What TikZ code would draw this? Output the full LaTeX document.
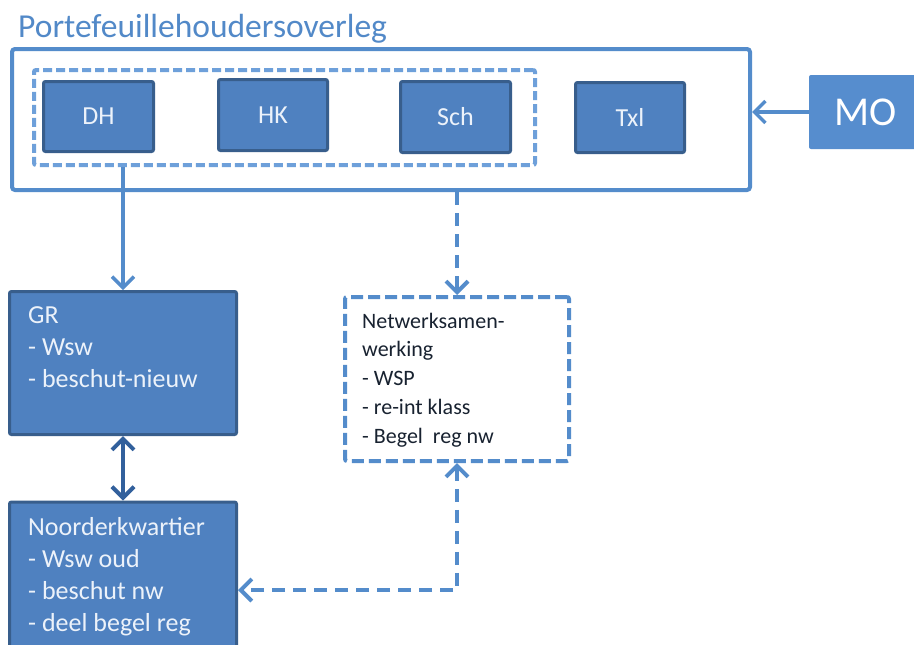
\documentclass[tikz,border=0pt]{standalone}
\usepackage{fontspec}
\setmainfont{Carlito}
\usetikzlibrary{arrows.meta}
\definecolor{boxfill}{RGB}{79,129,192}
\definecolor{boxborder}{RGB}{56,94,140}
\definecolor{lineblue}{RGB}{84,140,203}
\definecolor{dashlight}{RGB}{110,160,218}
\definecolor{darkarrow}{RGB}{50,96,156}
\definecolor{mofill}{RGB}{86,141,206}
\definecolor{titleblue}{RGB}{82,137,200}
\definecolor{boxtext}{RGB}{236,242,250}
\definecolor{darktext}{RGB}{24,34,48}
\tikzset{
  smallbox/.style={draw=boxborder, fill=boxfill, line width=3pt, rounded corners=2pt,
    text=boxtext, font=\fontsize{26}{30}\selectfont, inner sep=0pt},
  bigbox/.style={draw=boxborder, fill=boxfill, line width=3pt, rounded corners=2pt, inner sep=0pt},
  frameline/.style={draw=lineblue, line width=4pt, rounded corners=3pt, inner sep=0pt},
  innerdash/.style={draw=dashlight, line width=4pt, dash pattern=on 9pt off 4pt, rounded corners=2pt, inner sep=0pt},
  nwbox/.style={draw=lineblue, line width=4pt, dash pattern=on 12pt off 5pt, rounded corners=2pt, inner sep=0pt},
  bluetext/.style={anchor=north west, inner sep=0pt, align=left, text=boxtext,
    font=\fontsize{26}{32}\selectfont},
  darkblock/.style={anchor=north west, inner sep=0pt, align=left, text=darktext,
    font=\fontsize{22}{28.7}\selectfont},
  solidconn/.style={draw=lineblue, line width=3.5pt, -{Straight Barb[length=11pt,width=22pt]}},
  dashconn/.style={draw=lineblue, line width=4pt, dash pattern=on 13pt off 8pt, -{Straight Barb[length=11pt,width=22pt]}},
  dashboth/.style={draw=lineblue, line width=4pt, dash pattern=on 13pt off 8pt,
    {Straight Barb[length=11pt,width=22pt]}-{Straight Barb[length=11pt,width=22pt]}},
  dblconn/.style={draw=darkarrow, line width=4pt,
    {Straight Barb[length=11pt,width=22pt]}-{Straight Barb[length=11pt,width=22pt]}}
}
\begin{document}
\begin{tikzpicture}[x=1pt,y=-1pt]
\useasboundingbox (0,0) rectangle (914,645);
\clip (0,0) rectangle (914,645);
\fill[white] (0,0) rectangle (914,645);

% title
\node[anchor=base west, inner sep=0pt, text=titleblue, font=\fontsize{33.5}{38}\selectfont]
  (title) at (18,37) {Portefeuillehoudersoverleg};

% outer frame and inner dashed frame
\node[frameline, minimum width=738pt, minimum height=141pt] (frame) at (381,119.5) {};
\node[innerdash, minimum width=501pt, minimum height=95pt] (inner) at (284.5,117.5) {};

% small boxes
\node[smallbox, minimum width=110pt, minimum height=70pt] (DH) at (98.5,116.5) {DH};
\node[smallbox, minimum width=109pt, minimum height=71pt] (HK) at (273,115) {HK};
\node[smallbox, minimum width=110pt, minimum height=71pt] (Sch) at (455.5,117) {Sch};
\node[smallbox, minimum width=109pt, minimum height=70pt] (Txl) at (630,117.5) {Txl};

% MO
\node[fill=mofill, inner sep=0pt, minimum width=114pt, minimum height=74pt, rounded corners=2pt,
  text=white, font=\fontsize{41}{46}\selectfont] (MO) at (866,112) {MO};

% GR
\node[bigbox, minimum width=227pt, minimum height=143pt] (GR) at (123,363) {};
\node[bluetext] (GRtext) at (28,304) {\rule{0pt}{19pt}GR\\- Wsw\\- beschut-nieuw};

% Noorderkwartier
\node[bigbox, minimum width=227pt, minimum height=156pt] (NK) at (123,580) {};
\node[bluetext] (NKtext) at (28,516) {\rule{0pt}{19pt}Noorderkwartier\\- Wsw oud\\- beschut nw\\- deel begel reg};

% Netwerksamenwerking
\node[nwbox, minimum width=224pt, minimum height=164pt] (NW) at (457,379) {};
\node[darkblock] (NWtext) at (362,311) {\rule{0pt}{17pt}Netwerksamen-\\werking\\- WSP\\- re-int klass\\- Begel~~reg nw};

% connectors
\draw[solidconn] (inner.south -| GR.north) -- (GR.north);
\draw[dashconn] (frame.south -| NW.north) -- (NW.north);
\draw[solidconn] (MO.west) -- (MO.west -| frame.east);
\draw[dblconn] (GR.south) -- (NK.north);
\coordinate (bend) at (457,590);
\draw[dashboth] (NW.south) -- (bend) -- (bend -| NK.east);
\end{tikzpicture}
\end{document}
